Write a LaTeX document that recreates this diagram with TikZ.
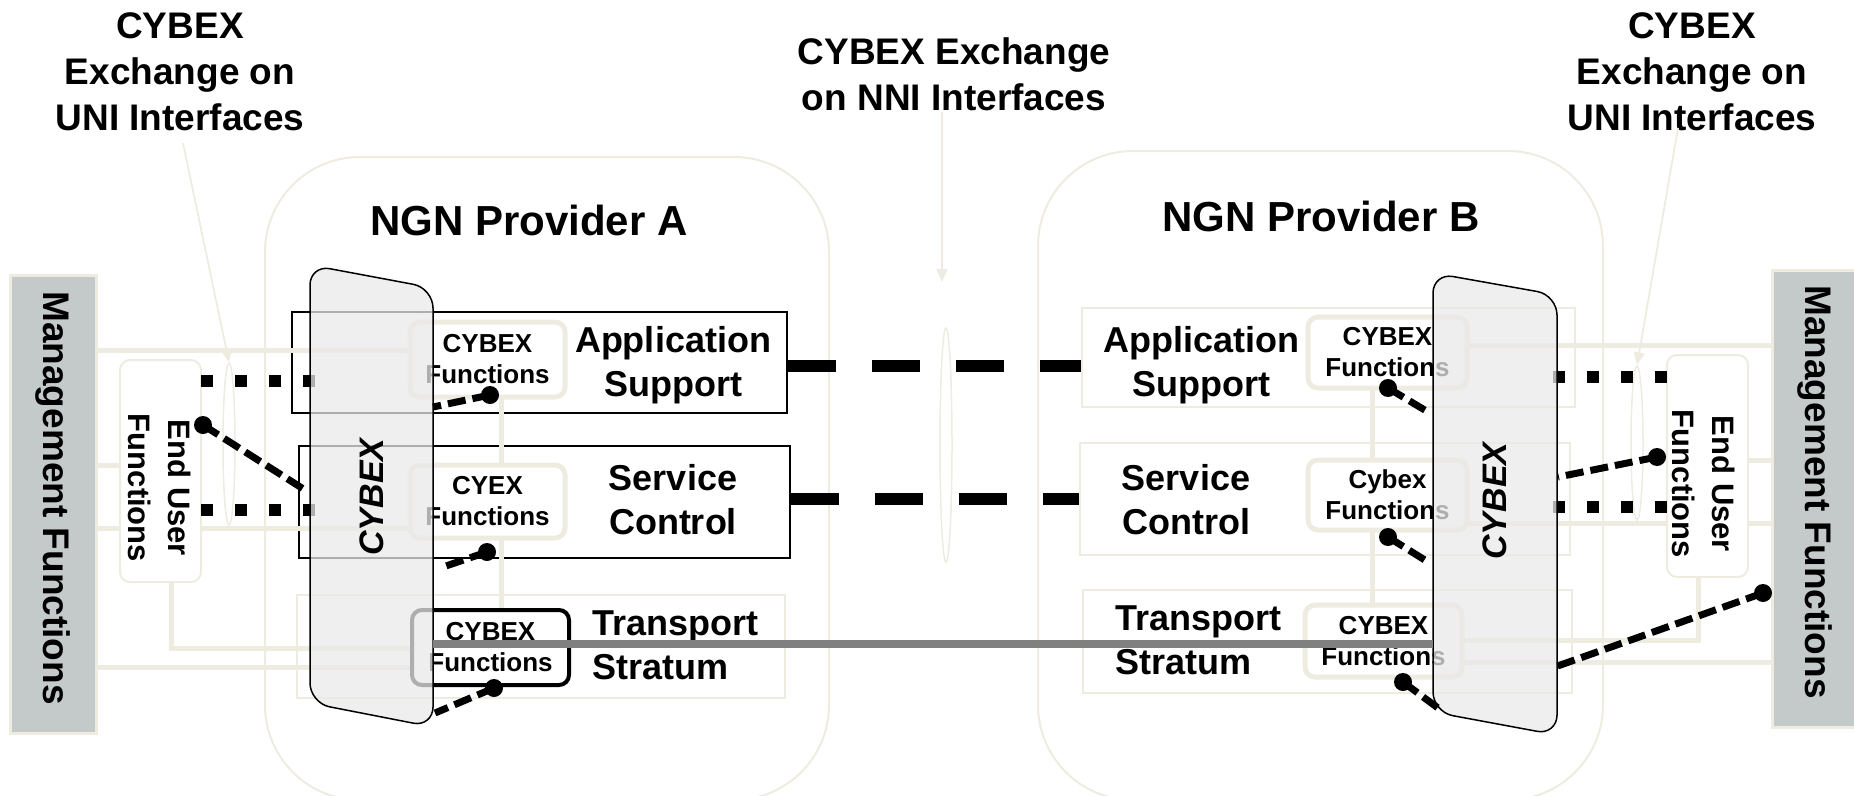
\documentclass[tikz,border=0pt]{standalone}
\usepackage{fontspec}
\setmainfont{Liberation Sans}
\usetikzlibrary{arrows.meta,calc,shapes.geometric}
\definecolor{tan}{HTML}{EEECE1}
\definecolor{mgmtfill}{HTML}{C4C9C9}
\definecolor{slabfill}{HTML}{E9E9E9}
\definecolor{trgray}{HTML}{808080}
\tikzset{
  provider/.style={draw=tan, line width=2pt, rounded corners=95pt},
  title/.style={font=\fontsize{42}{48}\selectfont\bfseries, inner sep=0pt},
  toplabel/.style={font=\fontsize{37}{46}\selectfont\bfseries, align=center, inner sep=0pt},
  pointer/.style={draw=tan, line width=1.8pt, -{Triangle[width=11pt,length=13pt]}},
  ifc/.style={ellipse, draw=tan, line width=1.5pt, minimum width=12pt, inner sep=0pt},
  mgmt/.style={draw=tan, line width=3pt, fill=mgmtfill, inner sep=0pt},
  mgtxt/.style={font=\fontsize{37}{44}\selectfont\bfseries, rotate=-90, inner sep=0pt},
  eubox/.style={draw=tan, line width=2pt, fill=white, rounded corners=10pt, inner sep=0pt},
  eutxt/.style={font=\fontsize{31}{40}\selectfont\bfseries, rotate=-90, align=center, inner sep=0pt},
  layerA/.style={draw=black, line width=1.5pt, inner sep=0pt},
  layerB/.style={draw=tan, line width=2pt, inner sep=0pt},
  mline/.style={draw=tan, line width=5pt},
  place/.style={inner sep=0pt},
  fbox/.style={draw=tan, line width=5pt, rounded corners=10pt, fill=white, inner sep=0pt,
    align=center, font=\fontsize{26}{31}\selectfont\bfseries},
  lbl/.style={font=\fontsize{36}{44}\selectfont\bfseries, align=center, inner sep=0pt},
  lblw/.style={lbl, align=left, anchor=west},
  dotl/.style={line width=12pt, dash pattern=on 12pt off 22pt},
  slab/.style={draw=black, line width=1.5pt, fill=slabfill, fill opacity=0.75, rounded corners=20pt},
  slabtxt/.style={font=\fontsize{34}{40}\selectfont\bfseries\itshape, rotate=90, inner sep=0pt},
  trline/.style={draw=trgray, line width=8pt},
  dashc/.style={line width=7pt, dash pattern=on 18pt off 7pt},
  nni/.style={line width=12pt, dash pattern=on 48pt off 36pt},
}
\begin{document}
\begin{tikzpicture}[x=1pt,y=-1pt]
\useasboundingbox (0,0) rectangle (1854,795);
\clip (0,0) rectangle (1854,795);

% provider domains
\draw[provider] (265,157) rectangle (829,800);
\draw[provider] (1038,151) rectangle (1603,800);
\node[title] (provA) at (529,220) {NGN Provider A};
\node[title] (provB) at (1321,216) {NGN Provider B};

% management blocks
\node[mgmt, minimum width=86pt, minimum height=458pt] (mgL) at (53,504) {};
\node[mgtxt] (mgLt) at (53,498) {Management Functions};
\node[mgmt, minimum width=86pt, minimum height=457pt] (mgR) at (1815,498.5) {};
\node[mgtxt] (mgRt) at (1815,492) {Management Functions};

% placement of end user blocks (drawn after the links)
\node[place, minimum width=81pt, minimum height=222pt] (euL) at (160.5,471) {};
\node[place, minimum width=81pt, minimum height=222pt] (euR) at (1707.5,466) {};

% interface markers
\node[ifc, minimum height=162pt] (ellL) at (229,444) {};
\node[ifc, minimum height=234pt] (ellM) at (946,445) {};
\node[ifc, minimum height=154pt] (ellR) at (1637,443) {};

% headings and their pointers
\node[toplabel] (uniL) at (180,72) {CYBEX\\Exchange on\\UNI Interfaces};
\node[toplabel] (nniT) at (954,74) {CYBEX Exchange\\on NNI Interfaces};
\node[toplabel] (uniR) at (1692,72) {CYBEX\\Exchange on\\UNI Interfaces};
\coordinate (pL0) at (183,143);
\coordinate (pM0) at (942,112);
\coordinate (pMtip) at (942,282);
\coordinate (pR0) at (1678,128);
\draw[pointer] (pL0) -- (ellL.north);
\draw[pointer] (pM0) -- (pMtip);
\draw[pointer] (pR0) -- (ellR.north);

% functional layers
\node[layerA, minimum width=495pt, minimum height=101pt] (lAapp) at (539.5,362.5) {};
\node[layerA, minimum width=491pt, minimum height=112pt] (lAsvc) at (544.5,502) {};
\node[layerB, minimum width=488pt, minimum height=103pt] (lAtrp) at (541,646.5) {};
\node[layerB, minimum width=493pt, minimum height=99pt] (lBapp) at (1328.5,357.5) {};
\node[layerB, minimum width=490pt, minimum height=112pt] (lBsvc) at (1325,499) {};
\node[layerB, minimum width=489pt, minimum height=103pt] (lBtrp) at (1327.5,641.5) {};

% placement of the CYBEX function boxes (drawn after the links)
\node[place, minimum width=155pt, minimum height=75pt] (fAapp) at (487.5,359.5) {};
\node[place, minimum width=155pt, minimum height=73pt] (fAsvc) at (487.5,501.5) {};
\node[place, minimum width=157pt, minimum height=75pt] (fAtrp) at (490.5,647.5) {};
\node[place, minimum width=159pt, minimum height=71pt] (fBapp) at (1387.5,352.5) {};
\node[place, minimum width=159pt, minimum height=70pt] (fBsvc) at (1387.5,495) {};
\node[place, minimum width=157pt, minimum height=72pt] (fBtrp) at (1383.5,641) {};

% management links
\draw[mline] (mgL.east |- 0,350) -- (fAapp.west |- 0,350);
\draw[mline] (mgL.east |- 0,465) -- (euL.west |- 0,465);
\draw[mline] (mgL.east |- 0,528) -- (fAsvc.west |- 0,528);
\draw[mline] (mgL.east |- 0,667) -- (fAtrp.west |- 0,667);
\draw[mline] (euL.south -| 171,0) -- (171,648) -- (fAtrp.west |- 0,648);
\draw[mline] (mgR.west |- 0,345) -- (fBapp.east |- 0,345);
\draw[mline] (mgR.west |- 0,460) -- (euR.east |- 0,460);
\draw[mline] (mgR.west |- 0,523) -- (fBsvc.east |- 0,523);
\draw[mline] (mgR.west |- 0,662) -- (fBtrp.east |- 0,662);
\draw[mline] (euR.south -| 1698,0) -- (1698,640) -- (fBtrp.east |- 0,640);
\draw[mline] (fAapp.south -| 501,0) -- (fAsvc.north -| 501,0);
\draw[mline] (fAsvc.south -| 501,0) -- (fAtrp.north -| 501,0);
\draw[mline] (fBapp.south -| 1372,0) -- (fBsvc.north -| 1372,0);
\draw[mline] (fBsvc.south -| 1372,0) -- (fBtrp.north -| 1372,0);

% end user blocks
\node[eubox, minimum width=81pt, minimum height=222pt] (euLB) at (euL) {};
\node[eutxt] (euLt) at (160,488) {End User\\Functions};
\node[eubox, minimum width=81pt, minimum height=222pt] (euRB) at (euR) {};
\node[eutxt] (euRt) at (1704,484) {End User\\Functions};

% CYBEX function boxes
\node[fbox, minimum width=155pt, minimum height=75pt] (fAappB) at (fAapp) {CYBEX\\Functions};
\node[fbox, minimum width=155pt, minimum height=73pt] (fAsvcB) at (fAsvc) {CYEX\\Functions};
\node[fbox, draw=black, line width=4pt, minimum width=157pt, minimum height=75pt] (fAtrpB) at (fAtrp) {CYBEX\\Functions};
\node[fbox, minimum width=159pt, minimum height=71pt] (fBappB) at (fBapp) {CYBEX\\Functions};
\node[fbox, minimum width=159pt, minimum height=70pt] (fBsvcB) at (fBsvc) {Cybex\\Functions};
\node[fbox, minimum width=157pt, minimum height=72pt] (fBtrpB) at (fBtrp) {CYBEX\\Functions};

% layer names
\node[lbl] (tAapp) at (673,365) {Application\\Support};
\node[lbl] (tAsvc) at (673,500) {Service\\Control};
\node[lblw] (tAtrp) at (592,645) {Transport\\Stratum};
\node[lbl] (tBapp) at (1201,365) {Application\\Support};
\node[lbl] (tBsvc) at (1186,500) {Service\\Control};
\node[lblw] (tBtrp) at (1115,640) {Transport\\Stratum};

% UNI exchange (dotted)
\coordinate (sL1) at (333,381);
\coordinate (sL2) at (333,510);
\coordinate (sR1) at (1540,377);
\coordinate (sR2) at (1540,507);
\draw[dotl] (euL.east |- sL1) -- (sL1);
\draw[dotl] (euL.east |- sL2) -- (sL2);
\draw[dotl] (euR.west |- sR1) -- (sR1);
\draw[dotl] (euR.west |- sR2) -- (sR2);

% CYBEX slabs
\draw[slab] (310,480) -- (310,265) -- (433,288) -- (433,727) -- (310,703) -- cycle;
\draw[slab] (1433,480) -- (1433,273) -- (1557,295) -- (1557,735) -- (1433,712) -- cycle;
\node[slabtxt] (cybA) at (372,497) {CYBEX};
\node[slabtxt] (cybB) at (1495,501) {CYBEX};

% transport path between providers
\coordinate (trA) at (433,644);
\coordinate (trB) at (1433,644);
\draw[trline] (trA) -- (trB);

% internal CYBEX links
\coordinate (dA1) at (490,395); \coordinate (eA1) at (433,407);
\coordinate (dA2) at (487,552); \coordinate (eA2) at (440,568);
\coordinate (dA3) at (494,688); \coordinate (eA3) at (435,713);
\coordinate (dB1) at (1388,388); \coordinate (eB1) at (1428,412);
\coordinate (dB2) at (1388,537); \coordinate (eB2) at (1428,562);
\coordinate (dB3) at (1403,682); \coordinate (eB3) at (1438,708);
\coordinate (dEL) at (203,425); \coordinate (eEL) at (305,490);
\coordinate (dER) at (1657,457); \coordinate (eER) at (1558,477);
\coordinate (dMR) at (1763,593); \coordinate (eMR) at (1552,668);
\foreach \d/\e in {dA1/eA1,dA2/eA2,dA3/eA3,dB1/eB1,dB2/eB2,dB3/eB3,dEL/eEL,dER/eER,dMR/eMR}{
  \draw[dashc] (\d) -- (\e);
  \fill (\d) circle[radius=9pt];
}

% NNI exchange
\draw[nni] (lAapp.east |- 0,366) -- (lBapp.west |- 0,366);
\draw[nni] (lAsvc.east |- 0,499) -- (lBsvc.west |- 0,499);
\end{tikzpicture}
\end{document}
